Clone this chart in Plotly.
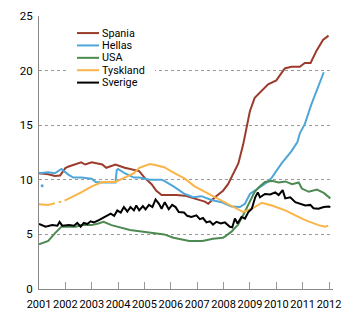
import plotly.graph_objects as go

# ---- data (decimal years, percent) ----
spania_x = [2001.0, 2001.35, 2001.6, 2001.8, 2002.0, 2002.1, 2002.6, 2002.75, 2003.0, 2003.4, 2003.55, 2003.9,
            2004.25, 2004.6, 2004.8, 2005.0, 2005.27, 2005.45, 2005.65, 2006.2, 2006.53, 2007.29, 2007.42, 2007.67,
            2007.98, 2008.17, 2008.36, 2008.56, 2008.74, 2008.87, 2009.0, 2009.18, 2009.44, 2009.69, 2010.0, 2010.32,
            2010.57, 2010.89, 2011.08, 2011.3, 2011.52, 2011.77, 2011.98]
spania_y = [10.6, 10.5, 10.35, 10.4, 11.07, 11.2, 11.6, 11.4, 11.6, 11.4, 11.1, 11.4,
            11.1, 10.9, 10.8, 10.2, 9.6, 9.0, 8.6, 8.6, 8.55, 8.0, 7.8, 8.4,
            9.0, 9.6, 10.6, 11.5, 13.2, 14.6, 16.3, 17.5, 18.1, 18.75, 19.1, 20.2,
            20.35, 20.35, 20.7, 20.7, 21.8, 22.8, 23.2]

hellas_x = [2001.0, 2001.35, 2001.6, 2001.85, 2002.1, 2002.3, 2002.6, 2003.0, 2003.15, 2003.4, 2003.9, 2003.95,
            2004.0, 2004.25, 2004.6, 2004.8, 2005.2, 2005.65, 2005.75, 2006.1, 2006.53, 2006.85, 2007.16, 2007.54,
            2007.92, 2008.3, 2008.62, 2008.81, 2009.0, 2009.2, 2009.45, 2009.64, 2009.83, 2010.02, 2010.2, 2010.57,
            2010.8, 2010.9, 2011.08, 2011.33, 2011.58, 2011.8]
hellas_y = [10.6, 10.7, 10.6, 11.0, 10.5, 10.2, 10.2, 10.1, 9.8, 9.75, 9.75, 10.9,
            11.0, 10.6, 10.2, 10.2, 10.0, 10.0, 9.9, 9.4, 8.7, 8.4, 8.5, 8.15,
            7.95, 7.55, 7.5, 7.8, 8.7, 9.05, 9.5, 9.75, 10.2, 10.9, 11.5, 12.6,
            13.45, 14.3, 15.1, 16.9, 18.4, 19.85]
hellas_dot_x = [2001.12]
hellas_dot_y = [9.45]

usa_x = [2001.0, 2001.35, 2001.6, 2001.85, 2002.0, 2002.4, 2002.6, 2003.0, 2003.25, 2003.45, 2003.75, 2004.1,
         2004.45, 2005.1, 2005.75, 2006.1, 2006.7, 2007.2, 2007.6, 2007.97, 2008.05, 2008.3, 2008.55, 2008.74,
         2009.0, 2009.17, 2009.33, 2009.57, 2009.83, 2010.09, 2010.34, 2010.6, 2010.85, 2010.97, 2011.23, 2011.54,
         2011.8, 2012.05]
usa_y = [4.1, 4.4, 5.1, 5.7, 5.7, 5.7, 5.85, 5.85, 6.0, 6.15, 5.85, 5.65,
         5.4, 5.2, 5.0, 4.7, 4.4, 4.4, 4.6, 4.7, 4.8, 5.25, 5.9, 6.75,
         7.95, 8.85, 9.3, 9.8, 9.9, 9.75, 9.85, 9.6, 9.75, 9.2, 8.9, 9.1,
         8.8, 8.3]

tyskland_x = [2001.0, 2001.35, 2001.6, None, 2001.75, 2001.85, None, 2001.97, 2002.1, 2002.6, 2003.0, 2003.4,
              2003.9, 2004.25, 2004.6, 2004.8, 2005.2, 2005.4, 2005.75, 2006.0, 2006.53, 2006.9, 2007.29, 2007.67,
              2008.05, 2008.43, 2008.74, 2009.07, 2009.45, 2009.83, 2010.34, 2010.72, 2011.1, 2011.6, 2011.85, 2011.97]
tyskland_y = [7.75, 7.7, 7.85, None, 7.95, 8.0, None, 8.1, 8.25, 8.85, 9.4, 9.8,
              9.8, 10.2, 10.6, 11.1, 11.45, 11.35, 11.15, 10.8, 10.1, 9.4, 8.9, 8.4,
              7.95, 7.5, 7.05, 7.35, 7.9, 7.65, 7.2, 6.75, 6.3, 5.85, 5.7, 5.8]

sverige_x = [2001.0, 2001.25, 2001.5, 2001.7, 2001.78, 2001.88, 2002.14, 2002.33, 2002.45, 2002.58, 2002.7, 2002.83,
             2002.96, 2003.08, 2003.27, 2003.46, 2003.6, 2003.72, 2003.85, 2003.97, 2004.1, 2004.22, 2004.35, 2004.47,
             2004.6, 2004.69, 2004.8, 2004.94, 2005.04, 2005.17, 2005.3, 2005.42, 2005.55, 2005.65, 2005.77, 2005.92,
             2006.05, 2006.18, 2006.3, 2006.5, 2006.62, 2006.78, 2006.97, 2007.1, 2007.22, 2007.35, 2007.48, 2007.6,
             2007.73, 2007.9, 2008.05, 2008.24, 2008.33, 2008.43, 2008.53, 2008.68, 2008.81, 2008.94, 2009.07, 2009.2,
             2009.3, 2009.38, 2009.57, 2009.77, 2009.96, 2010.09, 2010.24, 2010.34, 2010.53, 2010.72, 2010.91, 2011.1,
             2011.29, 2011.41, 2011.6, 2011.8, 2011.99, 2012.05]
sverige_y = [5.95, 5.7, 5.85, 5.8, 6.15, 5.8, 5.85, 5.8, 6.05, 5.7, 6.05, 5.95,
             6.2, 6.1, 6.3, 6.6, 6.75, 6.9, 6.7, 7.2, 7.0, 7.5, 7.1, 7.5,
             7.2, 7.65, 7.2, 7.6, 7.3, 7.7, 7.5, 8.2, 7.8, 7.35, 7.95, 7.3,
             7.7, 7.5, 7.05, 7.0, 6.7, 6.6, 6.75, 6.4, 6.5, 6.1, 6.2, 5.9,
             6.15, 6.0, 6.1, 5.7, 5.65, 6.45, 6.0, 6.6, 6.45, 7.05, 7.35, 8.4,
             8.85, 8.4, 8.7, 8.65, 8.85, 8.6, 9.05, 8.3, 8.4, 7.95, 7.8, 7.65,
             7.7, 7.4, 7.35, 7.5, 7.55, 7.5]

year_ticks = list(range(2001, 2013))
y_ticks = [0, 5, 10, 15, 20, 25]

series_names = ["Spania", "Hellas", "USA", "Tyskland", "Sverige"]
series_x = [spania_x, hellas_x, usa_x, tyskland_x, sverige_x]
series_y = [spania_y, hellas_y, usa_y, tyskland_y, sverige_y]
series_colors = ["#9b3b2c", "#4fa6d8", "#4d8a52", "#fbb447", "#000000"]

fig = go.Figure()
for name, xs, ys, col in zip(series_names, series_x, series_y, series_colors):
    fig.add_trace(go.Scatter(x=xs, y=ys, name=name, mode="lines",
                             line=dict(color=col, width=2), connectgaps=False, showlegend=False))
fig.add_trace(go.Scatter(x=hellas_dot_x, y=hellas_dot_y, mode="markers", showlegend=False,
                         marker=dict(color=series_colors[1], size=3)))

# ---- manual compact legend (paper coordinates) ----
L, T, W, H = 39, 9, 294, 280
def px(xp):
    return (xp - L) / W
def py(yp):
    return 1 - (yp - T) / H

shapes = [dict(type="rect", xref="paper", yref="paper", x0=px(68), x1=px(155), y0=py(85), y1=py(18),
               fillcolor="white", line=dict(width=0), layer="above")]
annotations = []
row_y = [26.5, 39.2, 51.9, 64.6, 77.3]
for name, col, ry in zip(series_names, series_colors, row_y):
    shapes.append(dict(type="line", xref="paper", yref="paper", x0=px(77), x1=px(99), y0=py(ry), y1=py(ry),
                       line=dict(color=col, width=2), layer="above"))
    annotations.append(dict(xref="paper", yref="paper", x=px(101), y=py(ry), text=name, showarrow=False,
                            xanchor="left", yanchor="middle", borderpad=0,
                            font=dict(size=10.8, color="#000")))

FONT = "Roboto, Open Sans, sans-serif"
fig.update_layout(
    width=350, height=324,
    margin=dict(l=39, r=17, t=9, b=35, pad=0),
    paper_bgcolor="white", plot_bgcolor="white",
    font=dict(family=FONT, size=11, color="#000"),
    showlegend=False,
    shapes=shapes, annotations=annotations,
    xaxis=dict(range=[2001, 2012.15], tickvals=year_ticks, ticktext=[str(v) for v in year_ticks],
               tickangle=0, ticks="inside", ticklen=7, tickcolor="#999", tickwidth=1,
               showline=True, linecolor="#888", linewidth=1, showgrid=False, zeroline=False,
               ticklabelstandoff=5, tickfont=dict(size=11)),
    yaxis=dict(range=[0, 25], tickvals=y_ticks, showgrid=True, gridcolor="#999", griddash="dot",
               gridwidth=1, showline=True, linecolor="#888", linewidth=1, zeroline=False, ticks="",
               ticklabelstandoff=3, tickfont=dict(size=11.5)),
)

fig.write_html("out.html")
